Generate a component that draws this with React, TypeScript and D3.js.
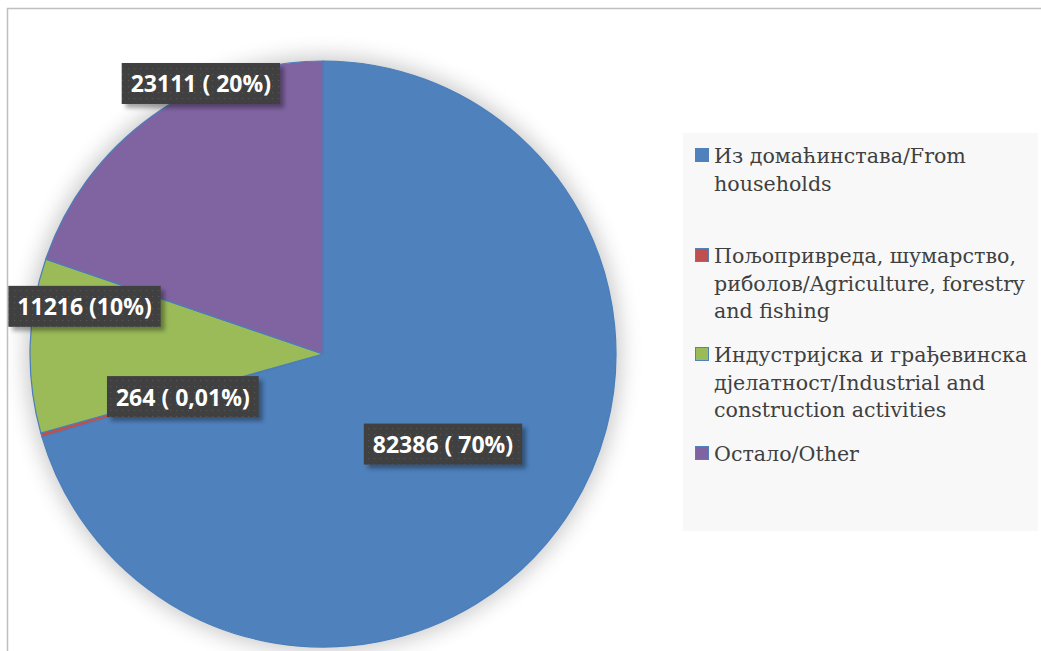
import React from "react";
import * as d3 from "d3";

const categories = [
  "Из домаћинстава/From households",
  "Пољопривреда, шумарство, риболов/Agriculture, forestry and fishing",
  "Индустријска и грађевинска дјелатност/Industrial and construction activities",
  "Остало/Other",
];
const values = [82386, 264, 11216, 23111];
const valueLabels = ["82386 ( 70%)", "264 ( 0,01%)", "11216 (10%)", "23111 ( 20%)"];
const legendLines = [
  ["Из домаћинстава/From", "households"],
  ["Пољопривреда, шумарство,", "риболов/Agriculture, forestry", "and fishing"],
  ["Индустријска и грађевинска", "дјелатност/Industrial and", "construction activities"],
  ["Остало/Other"],
];
const colors = ["#4f81bd", "#c0504d", "#9bbb59", "#8064a2"];
// label placement: angle (deg, clockwise from 12 o'clock) and radius fraction
const labelAngles = [126.9, 253.1, 281.3, 335.7];
const labelRadii = [0.512, 0.5, 0.83, 1.013];

const W = 1041;
const H = 651;
const cx = 323;
const cy = 354;
const R = 293;
const LABEL_FONT = "700 23px 'Open Sans', sans-serif";

function measure(t: string): number {
  if (typeof document === "undefined") return t.length * 12;
  const c = document.createElement("canvas").getContext("2d");
  if (!c) return t.length * 12;
  c.font = LABEL_FONT;
  return c.measureText(t).width;
}

export default function App() {
  const pie = d3.pie<number>().sort(null).value((d) => d)(values);
  const arc = d3.arc<d3.PieArcDatum<number>>().innerRadius(0).outerRadius(R);

  const legendX = 683;
  const legendY = 133;
  const entryTop = [163, 263, 362, 461];
  const lineH = 27.7;

  return (
    <svg
      width={W}
      height={H}
      style={{ position: "absolute", left: 0, top: 0, background: "#fff" }}
    >
      <defs>
        <filter id="pieShadow" x="-30%" y="-30%" width="160%" height="160%">
          <feGaussianBlur stdDeviation="11" />
        </filter>
        <filter id="lblShadow" x="-20%" y="-30%" width="140%" height="160%">
          <feGaussianBlur stdDeviation="2" />
        </filter>
        <pattern id="dots" width="6" height="6" patternUnits="userSpaceOnUse">
          <rect width="6" height="6" fill="#404040" />
          <rect x="2" y="2" width="1.2" height="1.2" fill="#555" />
        </pattern>
      </defs>
      <rect x={0} y={0} width={W} height={H} fill="#fff" />
      <rect x={7.5} y={8.5} width={1200} height={800} fill="#fff" stroke="#bfbfbf" strokeWidth={1.5} />

      {/* pie shadow */}
      <circle cx={cx} cy={cy} r={R + 4} fill="#000" opacity={0.22} filter="url(#pieShadow)" />

      <g transform={`translate(${cx},${cy})`}>
        {pie.map((d, i) => (
          <path key={i} d={arc(d) || ""} fill={colors[i]} stroke="#4a7ebb" strokeWidth={1.2} />
        ))}
      </g>

      {/* data labels */}
      {valueLabels.map((t, i) => {
        const a = (labelAngles[i] * Math.PI) / 180;
        const x = cx + Math.sin(a) * R * labelRadii[i];
        const y = cy - Math.cos(a) * R * labelRadii[i];
        const w = measure(t) + 18;
        const h = 41;
        return (
          <g key={i}>
            <rect x={x - w / 2 + 4} y={y - h / 2 + 4} width={w} height={h} fill="#000" opacity={0.35} filter="url(#lblShadow)" />
            <rect x={x - w / 2} y={y - h / 2} width={w} height={h} fill="url(#dots)" />
            <text
              x={x}
              y={y}
              textAnchor="middle"
              dominantBaseline="central"
              fill="#fff"
              fontFamily="'Open Sans', sans-serif"
              fontWeight={700}
              fontSize={23}
            >
              {t}
            </text>
          </g>
        );
      })}

      {/* legend */}
      <rect x={legendX} y={legendY} width={355} height={398} fill="#f8f8f8" />
      {categories.map((c, i) => (
        <g key={c}>
          <rect x={695.5} y={entryTop[i] - 14.5} width={13} height={13} fill={colors[i]} stroke="#4f81bd" strokeWidth={1} />
          <text fill="#404040" fontFamily="'DejaVu Serif', serif" fontSize={20.6}>
            {legendLines[i].map((l, j) => (
              <tspan key={j} x={714} y={entryTop[i] + j * lineH}>
                {l}
              </tspan>
            ))}
          </text>
        </g>
      ))}
    </svg>
  );
}
